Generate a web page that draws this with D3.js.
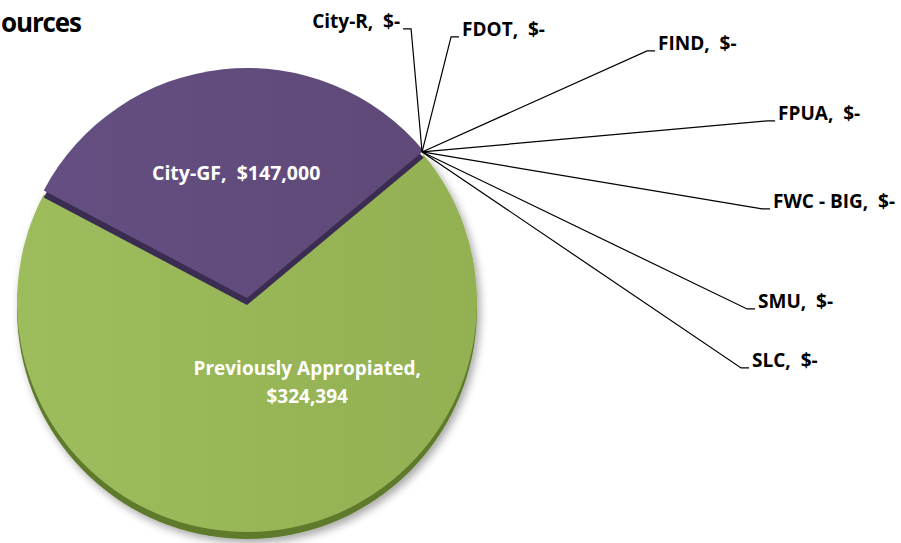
<!DOCTYPE html>
<html>
<head>
<meta charset="utf-8">
<script src="https://cdn.jsdelivr.net/npm/d3@7"></script>
<style>
  body { margin: 0; background: #fff; }
  text { font-family: "Open Sans", Lato, sans-serif; font-weight: bold; white-space: pre; }
</style>
</head>
<body>
<div id="wrapper"></div>
<script>
// data
const categories = ['City-GF', 'City-R', 'FDOT', 'FIND', 'FPUA', 'FWC - BIG', 'SMU', 'SLC', 'Previously Appropiated'];
const amounts = [147000, 0, 0, 0, 0, 0, 0, 0, 324394];
const sliceColors = ['#604a7b', '#4f81bd', '#c0504d', '#f79646', '#4bacc6', '#8064a2', '#2c4d75', '#772c2a', '#9bbb59'];
const titleText = 'ources';  // what is left visible of the title in the original

// leader line end points for the empty slices, relative to the slice point
const leaderEnds = {
    'City-R': [-11, -123, -1],
    'FDOT': [29, -115, 1],
    'FIND': [225, -101, 1],
    'FPUA': [345, -31, 1],
    'FWC - BIG': [340, 57, 1],
    'SMU': [325, 157, 1],
    'SLC': [319, 216, 1]
};

const fmtMoney = v => v === 0 ? '$-' : '$' + d3.format(',')(v);

let dimensions = { width: 901, height: 543 };
let cx = 247, cy = 302, radius = 230, depth = 7;

const svg = d3.select('#wrapper').append('svg')
    .attr('width', dimensions.width)
    .attr('height', dimensions.height);

const defs = svg.append('defs');
const shadow = defs.append('filter').attr('id', 'shadow')
    .attr('x', '-10%').attr('y', '-10%').attr('width', '130%').attr('height', '130%');
shadow.append('feGaussianBlur').attr('in', 'SourceAlpha').attr('stdDeviation', 4);
shadow.append('feOffset').attr('dx', 3).attr('dy', 4).attr('result', 'blur');
shadow.append('feComponentTransfer').append('feFuncA').attr('type', 'linear').attr('slope', 0.35);
const merge = shadow.append('feMerge');
merge.append('feMergeNode');
merge.append('feMergeNode').attr('in', 'SourceGraphic');

function grad(id, c1, c2) {
    const g = defs.append('linearGradient').attr('id', id)
        .attr('x1', '0%').attr('y1', '0%').attr('x2', '100%').attr('y2', '0%');
    g.append('stop').attr('offset', '0%').attr('stop-color', c1);
    g.append('stop').attr('offset', '100%').attr('stop-color', c2);
}
grad('gGreen', '#9dbd5d', '#93b052');
grad('gPurple', '#654f82', '#5e4978');

// title
svg.append('text')
    .attr('x', 82).attr('y', 32)
    .attr('text-anchor', 'end')
    .attr('textLength', 81)
    .style('font-size', '26px')
    .style('fill', '#000')
    .text(titleText);

const startA = -62.1 * Math.PI / 180;
const pie = d3.pie().sort(null).value(d => d.value)
    .startAngle(startA).endAngle(startA + 2 * Math.PI);

const dataset = categories.map((c, i) => ({ name: c, value: amounts[i], color: sliceColors[i] }));
const arcs = pie(dataset);
const arcGen = d3.arc().innerRadius(0).outerRadius(radius);

const bounds = svg.append('g').attr('transform', `translate(${cx},${cy})`);
const big = arcs.filter(a => a.data.value > 0);

const green = big.find(a => a.data.name === 'Previously Appropiated');
const purple = big.find(a => a.data.name === 'City-GF');

// green slice (with depth + shadow)
const gGreen = bounds.append('g').attr('filter', 'url(#shadow)');
gGreen.append('path').attr('d', arcGen(green)).attr('transform', `translate(0,${depth})`).attr('fill', '#5f7a2c');
gGreen.append('path').attr('d', arcGen(green)).attr('fill', 'url(#gGreen)');

// purple slice, slightly raised
const gPurple = bounds.append('g').attr('transform', 'translate(0,-4)');
gPurple.append('path').attr('d', arcGen(purple)).attr('transform', `translate(0,${depth})`).attr('fill', '#3b2c52');
gPurple.append('path').attr('d', arcGen(purple)).attr('fill', 'url(#gPurple)');

// inner labels
const labelArc = d3.arc().innerRadius(radius * 0.58).outerRadius(radius * 0.58);
let pc = labelArc.centroid(purple);
bounds.append('text')
    .attr('x', pc[0] + 3).attr('y', pc[1] + 5)
    .attr('text-anchor', 'middle').attr('dominant-baseline', 'middle')
    .style('fill', '#fff').style('font-size', '19.5px')
    .text(`${purple.data.name},  ${fmtMoney(purple.data.value)}`);

let gc = d3.arc().innerRadius(radius * 0.3).outerRadius(radius * 0.3).centroid(green);
const gl = bounds.append('text')
    .attr('text-anchor', 'middle')
    .style('fill', '#fff').style('font-size', '19px');
gl.append('tspan').attr('x', gc[0] + 53).attr('y', gc[1] + 4).text(`${green.data.name},`);
gl.append('tspan').attr('x', gc[0] + 53).attr('y', gc[1] + 32).text(fmtMoney(green.data.value));

// empty slices: leader lines to the outside
const empties = arcs.filter(a => a.data.value === 0);
empties.forEach(a => {
    const p = [Math.sin(a.startAngle) * (radius - 2), -Math.cos(a.startAngle) * (radius - 2) - 4];
    const e = leaderEnds[a.data.name];
    const ex = p[0] + e[0], ey = p[1] + e[1];
    const hx = ex + e[2] * 8;
    bounds.append('path')
        .attr('d', `M${p[0]},${p[1]}L${ex},${ey}L${hx},${ey}`)
        .attr('fill', 'none').attr('stroke', '#000').attr('stroke-width', 1.2);
    bounds.append('text')
        .attr('x', hx + e[2] * 3).attr('y', ey - 6)
        .attr('text-anchor', e[2] > 0 ? 'start' : 'end')
        .attr('dominant-baseline', 'middle')
        .style('fill', '#000').style('font-size', '19px')
        .text(`${a.data.name},  ${fmtMoney(a.data.value)}`);
});
</script>
</body>
</html>
